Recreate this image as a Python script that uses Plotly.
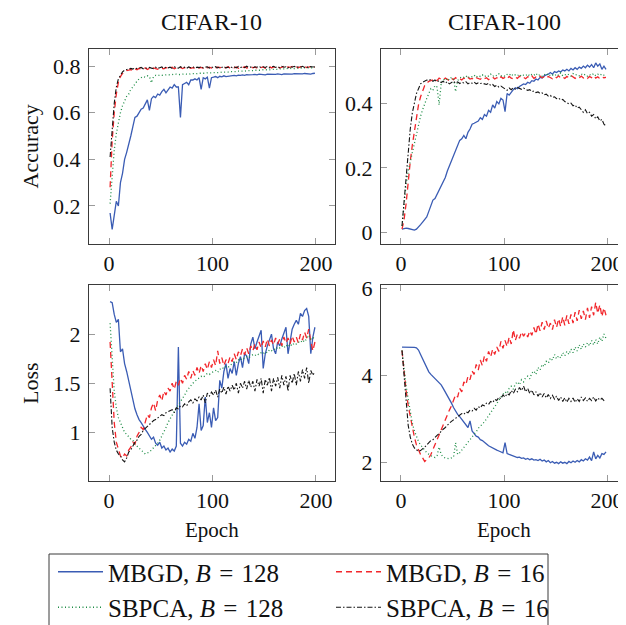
import plotly.graph_objects as go

# ---------------- data ----------------
epochs = list(range(1, 200, 2))

# CIFAR-10 accuracy
c10_acc_mbgd128 = [0.17,0.10,0.16,0.22,0.20,0.30,0.34,0.40,0.43,0.46,
 0.50,0.54,0.58,0.585,0.60,0.615,0.62,0.64,0.655,0.61,
 0.66,0.67,0.665,0.68,0.675,0.69,0.70,0.685,0.70,0.71,
 0.705,0.72,0.71,0.71,0.58,0.72,0.725,0.73,0.72,0.74,
 0.74,0.745,0.74,0.75,0.70,0.75,0.745,0.752,0.705,0.75,
 0.752,0.755,0.75,0.756,0.754,0.758,0.755,0.757,0.756,0.758,
 0.76,0.758,0.761,0.76,0.762,0.76,0.763,0.762,0.761,0.763,
 0.764,0.762,0.765,0.763,0.764,0.762,0.765,0.764,0.763,0.765,
 0.764,0.766,0.765,0.763,0.766,0.765,0.764,0.766,0.765,0.767,
 0.766,0.765,0.767,0.766,0.768,0.766,0.767,0.765,0.768,0.769]
c10_acc_mbgd16 = [0.28,0.48,0.60,0.68,0.73,0.755,0.768,0.775,0.78,0.782,
 0.785,0.78,0.788,0.784,0.79,0.786,0.788,0.792,0.785,0.79,
 0.787,0.792,0.789,0.786,0.793,0.79,0.788,0.794,0.789,0.791,
 0.795,0.788,0.792,0.79,0.794,0.789,0.793,0.791,0.795,0.79,
 0.793,0.789,0.796,0.791,0.794,0.79,0.797,0.792,0.795,0.791,
 0.794,0.79,0.796,0.792,0.795,0.79,0.794,0.797,0.791,0.795,
 0.792,0.796,0.79,0.795,0.793,0.797,0.791,0.794,0.798,0.792,
 0.795,0.791,0.797,0.793,0.796,0.79,0.795,0.798,0.792,0.796,
 0.793,0.797,0.791,0.795,0.799,0.792,0.796,0.794,0.798,0.793,
 0.796,0.792,0.797,0.794,0.799,0.793,0.796,0.798,0.792,0.795]
c10_acc_sbpca128 = [0.21,0.34,0.44,0.51,0.56,0.60,0.63,0.65,0.67,0.68,
 0.70,0.71,0.725,0.735,0.745,0.75,0.755,0.752,0.758,0.755,
 0.728,0.755,0.76,0.758,0.762,0.76,0.762,0.761,0.763,0.762,
 0.764,0.762,0.765,0.763,0.765,0.764,0.766,0.765,0.764,0.767,
 0.766,0.768,0.767,0.769,0.768,0.77,0.769,0.771,0.77,0.771,
 0.772,0.771,0.773,0.772,0.774,0.773,0.775,0.774,0.776,0.775,
 0.777,0.776,0.778,0.777,0.779,0.778,0.78,0.779,0.781,0.78,
 0.782,0.781,0.783,0.782,0.784,0.783,0.785,0.784,0.786,0.785,
 0.787,0.786,0.788,0.787,0.789,0.788,0.79,0.789,0.79,0.789,
 0.791,0.79,0.792,0.791,0.792,0.791,0.793,0.792,0.793,0.794]
c10_acc_sbpca16 = [0.41,0.55,0.64,0.71,0.745,0.76,0.775,0.782,0.786,0.788,
 0.79,0.787,0.792,0.789,0.791,0.794,0.788,0.792,0.79,0.794,
 0.791,0.789,0.795,0.79,0.793,0.796,0.79,0.794,0.792,0.795,
 0.79,0.796,0.793,0.791,0.797,0.792,0.795,0.79,0.796,0.793,
 0.797,0.791,0.795,0.793,0.798,0.792,0.795,0.797,0.791,0.796,
 0.793,0.797,0.792,0.796,0.794,0.798,0.792,0.795,0.797,0.793,
 0.796,0.792,0.798,0.794,0.796,0.793,0.799,0.794,0.796,0.792,
 0.797,0.795,0.799,0.793,0.797,0.794,0.798,0.792,0.796,0.799,
 0.794,0.797,0.793,0.799,0.795,0.797,0.792,0.798,0.795,0.799,
 0.793,0.797,0.795,0.799,0.794,0.797,0.793,0.798,0.796,0.797]

# CIFAR-100 accuracy
c100_acc_mbgd128 = [0.010,0.012,0.013,0.012,0.010,0.008,0.007,0.010,0.016,0.024,
 0.032,0.040,0.048,0.065,0.085,0.100,0.105,0.118,0.128,0.140,
 0.152,0.170,0.190,0.205,0.225,0.240,0.255,0.270,0.285,0.290,
 0.300,0.290,0.310,0.320,0.335,0.338,0.342,0.345,0.355,0.350,
 0.365,0.360,0.378,0.372,0.395,0.385,0.405,0.398,0.415,0.410,
 0.374,0.430,0.425,0.435,0.442,0.448,0.445,0.452,0.455,0.46,
 0.458,0.465,0.462,0.47,0.468,0.475,0.472,0.48,0.478,0.485,
 0.488,0.49,0.495,0.49,0.498,0.495,0.50,0.497,0.503,0.50,
 0.505,0.50,0.508,0.503,0.51,0.505,0.512,0.508,0.515,0.51,
 0.518,0.512,0.52,0.51,0.525,0.515,0.522,0.505,0.515,0.505]
c100_acc_mbgd16 = [0.01,0.04,0.09,0.16,0.22,0.27,0.31,0.36,0.395,0.42,
 0.44,0.455,0.462,0.468,0.47,0.472,0.475,0.47,0.478,0.474,
 0.472,0.478,0.475,0.47,0.477,0.473,0.479,0.474,0.476,0.472,
 0.478,0.474,0.48,0.475,0.477,0.473,0.479,0.476,0.474,0.48,
 0.476,0.479,0.473,0.478,0.481,0.475,0.479,0.474,0.482,0.477,
 0.48,0.475,0.483,0.478,0.476,0.481,0.477,0.484,0.478,0.48,
 0.476,0.482,0.479,0.485,0.477,0.481,0.478,0.484,0.479,0.482,
 0.477,0.483,0.48,0.476,0.482,0.479,0.485,0.478,0.481,0.477,
 0.483,0.479,0.486,0.48,0.477,0.482,0.479,0.484,0.478,0.481,
 0.477,0.483,0.479,0.485,0.478,0.482,0.476,0.481,0.479,0.48]
c100_acc_sbpca128 = [0.02,0.09,0.15,0.19,0.22,0.25,0.275,0.31,0.34,0.36,
 0.38,0.40,0.415,0.43,0.445,0.44,0.455,0.45,0.395,0.46,
 0.475,0.47,0.478,0.472,0.48,0.475,0.436,0.47,0.478,0.482,
 0.48,0.485,0.478,0.484,0.482,0.487,0.48,0.486,0.483,0.488,
 0.482,0.487,0.484,0.49,0.483,0.488,0.485,0.491,0.484,0.487,
 0.483,0.489,0.486,0.492,0.484,0.488,0.485,0.49,0.483,0.487,
 0.485,0.491,0.484,0.489,0.486,0.493,0.485,0.489,0.484,0.49,
 0.486,0.492,0.485,0.488,0.484,0.491,0.486,0.494,0.485,0.489,
 0.486,0.49,0.484,0.492,0.487,0.489,0.485,0.491,0.486,0.49,
 0.484,0.489,0.486,0.492,0.485,0.49,0.486,0.491,0.487,0.488]
c100_acc_sbpca16 = [0.02,0.10,0.18,0.26,0.32,0.37,0.40,0.43,0.445,0.46,
 0.465,0.468,0.472,0.47,0.474,0.468,0.472,0.466,0.47,0.464,
 0.468,0.462,0.467,0.46,0.465,0.468,0.462,0.466,0.461,0.465,
 0.463,0.467,0.46,0.464,0.462,0.466,0.46,0.463,0.461,0.462,
 0.46,0.458,0.462,0.455,0.458,0.452,0.456,0.45,0.453,0.448,
 0.445,0.44,0.447,0.442,0.448,0.444,0.449,0.446,0.443,0.447,
 0.444,0.44,0.442,0.436,0.438,0.433,0.435,0.43,0.432,0.426,
 0.428,0.422,0.424,0.418,0.42,0.414,0.416,0.41,0.412,0.405,
 0.402,0.398,0.40,0.392,0.395,0.385,0.388,0.378,0.372,0.38,
 0.368,0.372,0.36,0.365,0.352,0.358,0.345,0.35,0.335,0.33]

# CIFAR-10 loss
c10_loss_mbgd128 = [2.33,2.32,2.20,2.12,2.15,1.82,1.85,1.70,1.62,1.52,
 1.44,1.34,1.24,1.18,1.13,1.10,1.06,1.03,1.00,0.96,
 0.93,0.95,0.89,0.87,0.90,0.84,0.86,0.82,0.84,0.80,
 0.83,0.81,0.86,1.87,0.89,0.86,0.90,0.88,0.93,0.91,
 0.99,0.94,1.05,1.29,1.02,1.07,1.36,1.10,1.20,1.05,
 1.25,1.12,1.15,1.53,1.45,1.62,1.70,1.55,1.65,1.60,
 1.72,1.58,1.70,1.77,1.66,1.80,1.78,1.70,1.90,1.97,
 1.85,1.92,1.98,2.04,1.65,1.80,1.88,1.95,2.00,1.85,
 1.80,1.92,1.88,1.95,2.02,2.07,1.80,1.95,2.05,2.10,
 2.14,2.10,2.21,2.18,2.24,2.26,2.18,1.80,1.97,2.07]
c10_loss_mbgd16 = [1.92,1.45,1.10,0.90,0.82,0.76,0.74,0.78,0.76,0.82,
 0.85,0.90,0.88,0.96,1.00,1.05,1.03,1.12,1.18,1.15,
 1.25,1.30,1.22,1.33,1.38,1.32,1.42,1.38,1.45,1.42,
 1.50,1.44,1.52,1.48,1.55,1.50,1.58,1.54,1.62,1.55,
 1.63,1.58,1.66,1.60,1.68,1.62,1.70,1.64,1.72,1.66,
 1.74,1.68,1.83,1.70,1.76,1.68,1.74,1.70,1.77,1.72,
 1.80,1.74,1.82,1.78,1.85,1.79,1.86,1.80,1.88,1.83,
 1.90,1.84,1.92,1.86,1.93,1.87,1.95,1.88,1.94,1.89,
 1.96,1.90,1.95,1.88,1.97,1.91,1.96,1.90,1.98,1.92,
 1.97,1.91,2.00,1.94,2.02,1.96,2.05,1.93,1.83,1.92]
c10_loss_sbpca128 = [2.11,1.70,1.42,1.25,1.15,1.10,1.05,1.00,0.98,0.95,
 0.93,0.92,0.88,0.86,0.84,0.82,0.80,0.78,0.79,0.80,
 0.82,0.84,0.86,0.89,0.92,0.96,1.00,1.05,1.10,1.14,
 1.18,1.22,1.25,1.28,1.31,1.35,1.38,1.42,1.45,1.47,
 1.50,1.52,1.54,1.55,1.57,1.56,1.58,1.60,1.59,1.61,
 1.62,1.63,1.61,1.64,1.66,1.65,1.67,1.66,1.68,1.70,
 1.72,1.71,1.74,1.73,1.76,1.75,1.77,1.76,1.78,1.79,
 1.78,1.80,1.79,1.81,1.80,1.82,1.81,1.84,1.83,1.85,
 1.84,1.87,1.86,1.88,1.86,1.89,1.87,1.90,1.88,1.91,
 1.90,1.92,1.91,1.94,1.92,1.96,1.99,1.95,1.97,1.94]
c10_loss_sbpca16 = [1.45,1.05,0.90,0.82,0.78,0.76,0.72,0.70,0.74,0.80,
 0.82,0.86,0.90,0.92,0.96,0.98,1.02,1.04,1.06,1.08,
 1.10,1.12,1.13,1.15,1.16,1.18,1.17,1.20,1.21,1.22,
 1.23,1.20,1.25,1.24,1.27,1.26,1.29,1.27,1.31,1.33,
 1.30,1.34,1.32,1.36,1.33,1.38,1.30,1.40,1.37,1.41,
 1.38,1.43,1.36,1.44,1.40,1.46,1.39,1.47,1.42,1.48,
 1.43,1.50,1.40,1.50,1.45,1.52,1.44,1.53,1.46,1.52,
 1.42,1.54,1.47,1.55,1.40,1.54,1.48,1.56,1.42,1.55,
 1.47,1.56,1.45,1.58,1.48,1.57,1.42,1.58,1.50,1.60,
 1.48,1.62,1.52,1.64,1.55,1.66,1.50,1.63,1.58,1.62]

# CIFAR-100 loss
c100_loss_mbgd128 = [4.65,4.65,4.65,4.65,4.65,4.64,4.64,4.63,4.58,4.48,
 4.38,4.25,4.15,4.08,4.02,3.97,3.92,3.88,3.84,3.78,
 3.70,3.62,3.55,3.46,3.36,3.26,3.16,3.10,3.05,2.98,
 2.92,2.86,2.80,2.95,2.72,2.66,2.60,2.58,2.52,2.50,
 2.45,2.42,2.38,2.35,2.33,2.30,2.28,2.26,2.24,2.22,
 2.45,2.20,2.18,2.16,2.14,2.13,2.11,2.12,2.09,2.10,
 2.07,2.09,2.06,2.08,2.05,2.06,2.04,2.07,2.03,2.05,
 2.01,2.04,1.99,2.02,1.98,2.00,1.97,2.01,1.98,2.00,
 1.97,2.02,1.99,2.03,2.00,2.04,2.01,2.06,2.03,2.08,
 2.05,2.12,2.04,2.24,2.08,2.16,2.10,2.20,2.18,2.24]
c100_loss_mbgd16 = [4.57,4.05,3.65,3.30,3.05,2.80,2.58,2.40,2.28,2.18,
 2.10,2.02,2.06,2.10,2.18,2.28,2.40,2.52,2.63,2.75,
 2.88,2.98,3.08,3.20,3.30,3.42,3.55,3.50,3.70,3.62,
 3.85,3.78,3.98,3.90,4.10,4.02,4.25,4.12,4.35,4.22,
 4.45,4.32,4.55,4.42,4.60,4.48,4.65,4.55,4.78,4.62,
 4.80,4.66,4.88,4.72,5.05,4.80,4.95,4.85,5.00,4.90,
 4.98,4.88,5.02,4.92,5.10,4.95,5.18,5.02,5.22,5.05,
 5.25,5.08,5.20,5.05,5.28,5.10,5.30,5.12,5.35,5.15,
 5.38,5.18,5.40,5.20,5.45,5.25,5.50,5.30,5.48,5.28,
 5.55,5.32,5.58,5.38,5.68,5.42,5.62,5.35,5.55,5.38]
c100_loss_sbpca128 = [4.57,4.10,3.75,3.45,3.15,2.90,2.72,2.58,2.48,2.40,
 2.35,2.28,2.22,2.18,2.15,2.13,2.11,2.15,2.35,2.18,
 2.12,2.10,2.09,2.08,2.10,2.12,2.45,2.18,2.22,2.28,
 2.32,2.38,2.45,2.52,2.58,2.65,2.70,2.78,2.82,2.88,
 2.93,3.00,3.06,3.12,3.18,3.28,3.35,3.42,3.50,3.55,
 3.62,3.58,3.70,3.75,3.68,3.80,3.85,3.78,3.90,3.85,
 3.95,3.98,3.92,4.05,4.10,4.02,4.18,4.12,4.25,4.20,
 4.32,4.28,4.40,4.35,4.48,4.38,4.45,4.40,4.52,4.45,
 4.55,4.48,4.60,4.52,4.65,4.56,4.70,4.60,4.72,4.65,
 4.75,4.68,4.80,4.70,4.82,4.72,4.88,4.78,4.95,4.85]
c100_loss_sbpca16 = [4.57,3.95,3.25,2.85,2.58,2.42,2.33,2.28,2.25,2.27,
 2.30,2.35,2.40,2.45,2.50,2.52,2.58,2.62,2.66,2.72,
 2.76,2.80,2.86,2.90,2.94,2.98,3.02,3.05,3.08,3.12,
 3.10,3.16,3.14,3.20,3.18,3.24,3.20,3.28,3.25,3.32,
 3.30,3.36,3.33,3.40,3.37,3.45,3.42,3.50,3.46,3.55,
 3.50,3.58,3.55,3.65,3.58,3.68,3.62,3.72,3.65,3.75,
 3.62,3.70,3.58,3.66,3.55,3.62,3.52,3.60,3.50,3.58,
 3.48,3.56,3.47,3.54,3.45,3.52,3.42,3.50,3.40,3.48,
 3.38,3.47,3.40,3.48,3.38,3.46,3.40,3.50,3.42,3.48,
 3.40,3.47,3.42,3.50,3.41,3.48,3.43,3.47,3.42,3.45]

col_titles = ["CIFAR-10", "CIFAR-100"]
row_titles = ["Accuracy", "Loss"]
x_title = "Epoch"
series_names = ["MBGD, <i>B</i>\u2004=\u2004128", "MBGD, <i>B</i>\u2004=\u200416",
                "SBPCA, <i>B</i>\u2004=\u2004128", "SBPCA, <i>B</i>\u2004=\u200416"]
x_ticks = [0, 100, 200]
y_ticks = {"TL": [0.2, 0.4, 0.6, 0.8], "TR": [0, 0.2, 0.4],
           "BL": [1, 1.5, 2], "BR": [2, 4, 6]}

# ---------------- styling ----------------
# the page body has an 8px margin, so the figure is drawn 8px in from the window corner
OFF = 8
W, H = 626 - OFF, 625 - OFF
FONT = "Liberation Serif"
styles = [
    dict(color="#3a5cb4", width=1.3, dash="solid"),
    dict(color="#f2262b", width=1.3, dash="6px,4px"),
    dict(color="#1d8c45", width=1.3, dash="1px,2.5px"),
    dict(color="#151515", width=1.1, dash="5px,2px,1.5px,2px"),
]

def fx(p):  # window pixel -> paper x
    return (p - OFF) / W

def fy(p):  # window pixel -> paper y
    return 1 - (p - OFF) / H

panels = [
    ("TL", "x", "y", [c10_acc_mbgd128, c10_acc_mbgd16, c10_acc_sbpca128, c10_acc_sbpca16]),
    ("TR", "x2", "y2", [c100_acc_mbgd128, c100_acc_mbgd16, c100_acc_sbpca128, c100_acc_sbpca16]),
    ("BL", "x3", "y3", [c10_loss_mbgd128, c10_loss_mbgd16, c10_loss_sbpca128, c10_loss_sbpca16]),
    ("BR", "x4", "y4", [c100_loss_mbgd128, c100_loss_mbgd16, c100_loss_sbpca128, c100_loss_sbpca16]),
]

fig = go.Figure()
for pi, (key, xa, ya, series) in enumerate(panels):
    for si, ys in enumerate(series):
        fig.add_trace(go.Scatter(
            x=epochs, y=ys, xaxis=xa, yaxis=ya, mode="lines",
            line=styles[si], name=series_names[si], legendgroup=str(si),
            showlegend=(pi == 0), hoverinfo="skip"))

xdom_l = [fx(89), fx(335)]
xdom_r = [fx(381), 1.0]
ydom_t = [fy(244), fy(49)]
ydom_b = [fy(481), fy(285)]
yranges = {"TL": [0.037, 0.873], "TR": [-0.036, 0.568],
           "BL": [0.505, 2.5], "BR": [1.57, 6.076]}

common = dict(showline=True, linecolor="#3a3a3a", linewidth=1, mirror="ticks",
              ticks="inside", ticklen=6, tickwidth=1, tickcolor="#9a9a9a",
              showgrid=False, zeroline=False,
              tickfont=dict(family=FONT, size=22, color="#111"))

layout = dict(width=W, height=H, margin=dict(l=0, r=0, t=0, b=0, autoexpand=False),
              plot_bgcolor="white", paper_bgcolor="white", showlegend=True)
axis_specs = [("", "TL", xdom_l, ydom_t), ("2", "TR", xdom_r, ydom_t),
              ("3", "BL", xdom_l, ydom_b), ("4", "BR", xdom_r, ydom_b)]
for suf, key, xd, yd in axis_specs:
    layout["xaxis" + suf] = dict(common, domain=xd, range=[-19.4, 218.4],
                                 tickvals=x_ticks, anchor="y" + suf, ticklabelstandoff=0)
    layout["yaxis" + suf] = dict(common, domain=yd, range=yranges[key],
                                 tickvals=y_ticks[key], anchor="x" + suf, ticklabelstandoff=3)
fig.update_layout(**layout)

cx_l = (fx(89) + fx(335)) / 2
cx_r = (fx(381) + fx(627)) / 2
ann = [
    dict(text=col_titles[0], x=cx_l, y=fy(22), size=24),
    dict(text=col_titles[1], x=cx_r, y=fy(22), size=24),
    dict(text=x_title, x=cx_l, y=fy(530), size=21),
    dict(text=x_title, x=cx_r, y=fy(530), size=21),
]
annotations = []
for a in ann:
    annotations.append(dict(text=a["text"], x=a["x"], y=a["y"], xref="paper", yref="paper",
                            showarrow=False, xanchor="center", yanchor="middle",
                            font=dict(family=FONT, size=a["size"], color="#111")))
for txt, yd in ((row_titles[0], ydom_t), (row_titles[1], ydom_b)):
    annotations.append(dict(text=txt, x=fx(30), y=(yd[0] + yd[1]) / 2, textangle=-90,
                            xref="paper", yref="paper", showarrow=False,
                            xanchor="center", yanchor="middle",
                            font=dict(family=FONT, size=22, color="#111")))
fig.update_layout(annotations=annotations)

# legend frame (its bottom edge lies below the visible window)
fig.add_shape(type="rect", xref="paper", yref="paper", x0=fx(49), x1=fx(548),
              y0=fy(670), y1=fy(554), line=dict(color="#3a3a3a", width=1),
              fillcolor="rgba(0,0,0,0)", layer="above")
fig.update_layout(legend=dict(orientation="h", x=fx(53), y=fy(549), xanchor="left",
                              yanchor="top", entrywidth=218, entrywidthmode="pixels",
                              itemwidth=45,
                              bgcolor="rgba(0,0,0,0)", borderwidth=0, traceorder="normal",
                              font=dict(family=FONT, size=25, color="#111"),
                              tracegroupgap=0))

fig.write_html("out.html")
